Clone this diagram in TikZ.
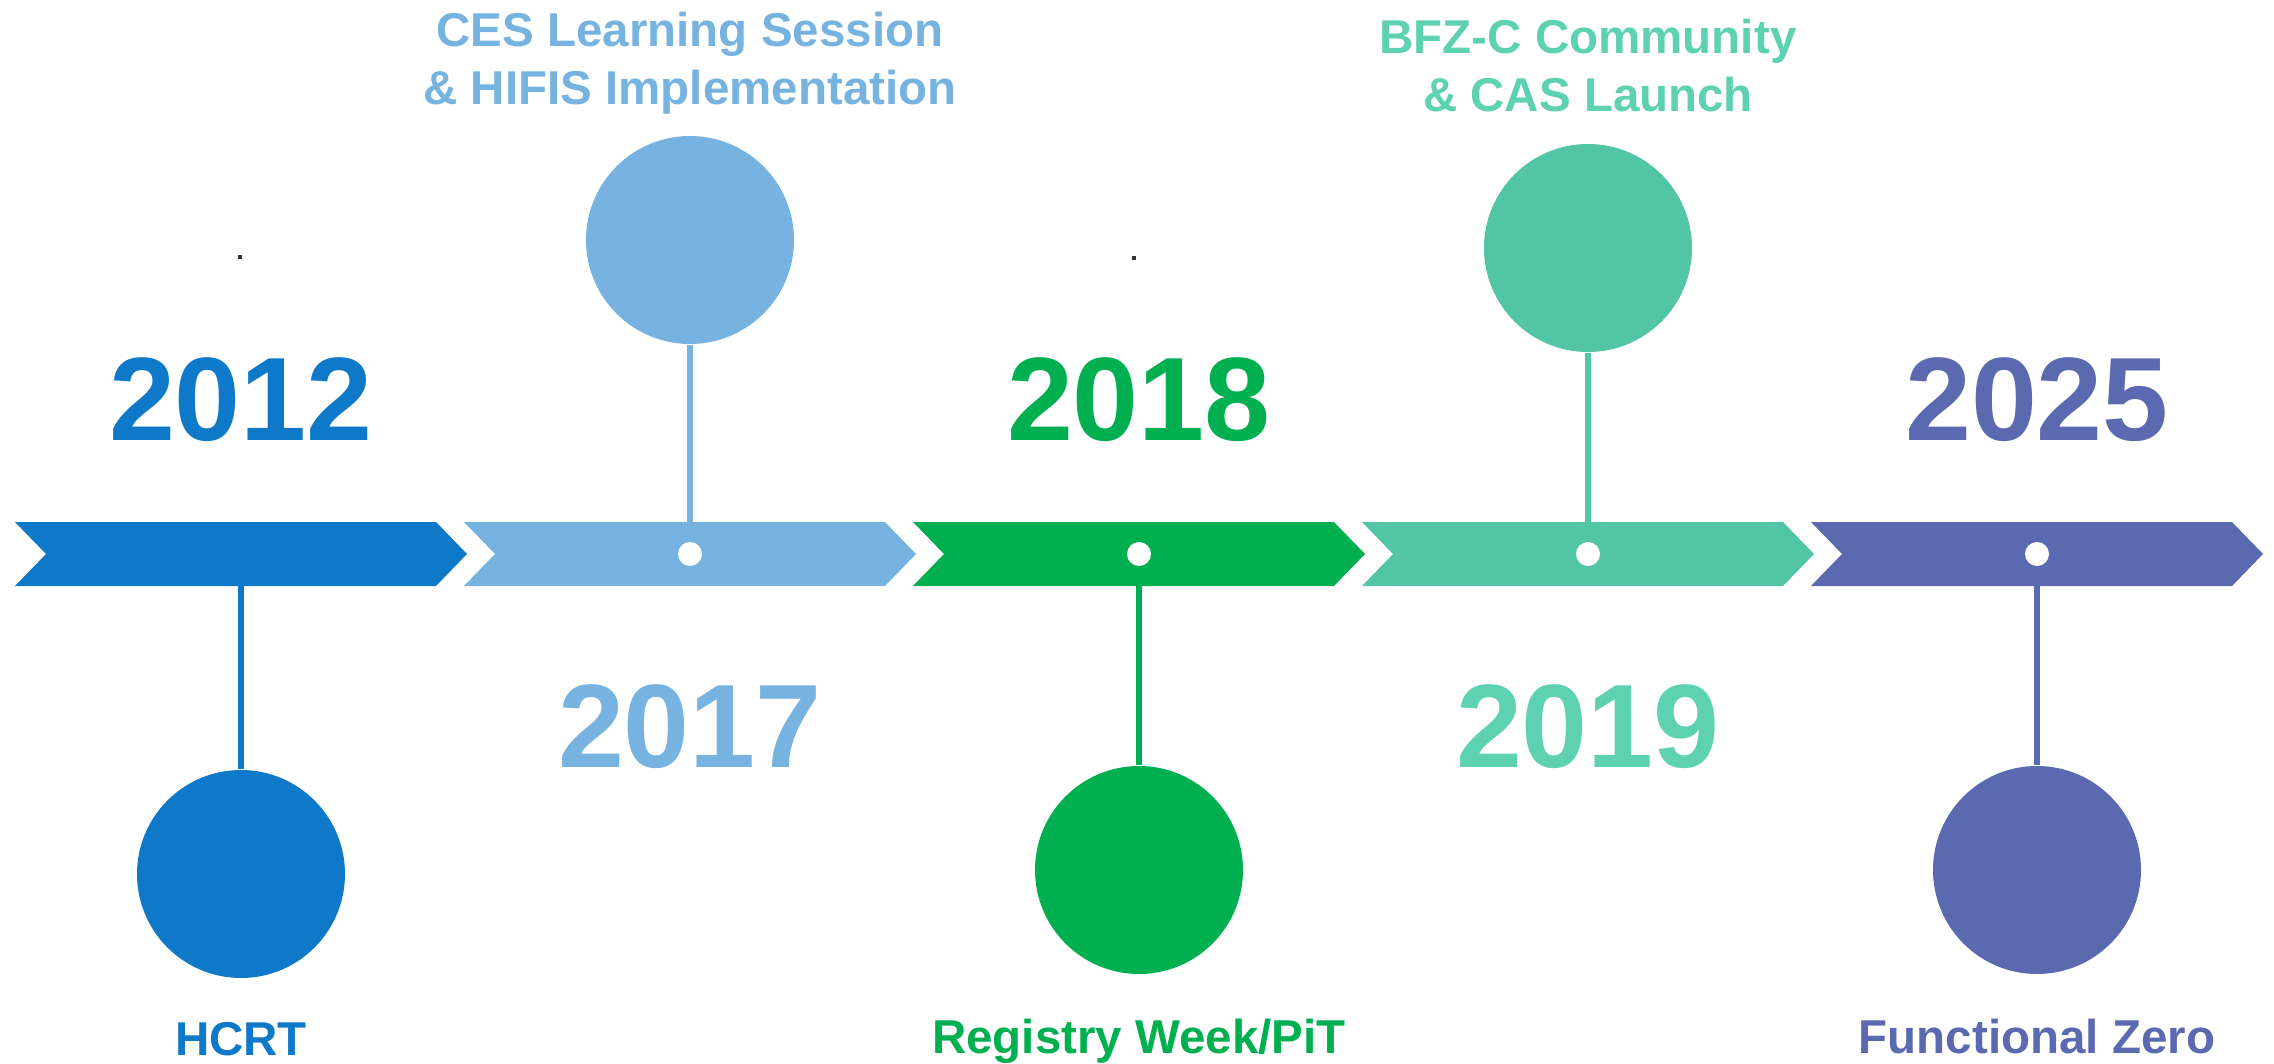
\documentclass[tikz,border=0pt]{standalone}
\usepackage{fontspec}
\setmainfont{Liberation Sans}
\usetikzlibrary{backgrounds}

\definecolor{hcrtblue}{HTML}{0E79C9}
\definecolor{cesblue}{HTML}{76B3E0}
\definecolor{regreen}{HTML}{00AF50}
\definecolor{bfzteal}{HTML}{52C5A6}
\definecolor{bfztext}{HTML}{5DD1B0}
\definecolor{fzpurple}{HTML}{5B69B1}

\begin{document}
\begin{tikzpicture}[x=0.3pt,y=-0.3pt,
  year/.style={anchor=base,inner sep=0,font=\fontsize{35.6pt}{42pt}\selectfont\bfseries},
  event/.style={inner sep=0,align=center,font=\fontsize{14.25pt}{17.4pt}\selectfont\bfseries},
  ball/.style={circle,inner sep=0,minimum size=62.4pt},
  hole/.style={circle,fill=white,inner sep=0,minimum size=7.2pt},
  stem/.style={line width=1.6pt},
  speck/.style={fill=black!80,inner sep=0,minimum size=1.2pt}]
\useasboundingbox (0,0) rectangle (2274,1064);

% arrow band
\fill[hcrtblue] (15,522)   -- ++(421,0) -- ++(31,32) -- ++(-31,32) -- ++(-421,0) -- ++(31,-32) -- cycle;
\fill[cesblue]  (464,522)  -- ++(421,0) -- ++(31,32) -- ++(-31,32) -- ++(-421,0) -- ++(31,-32) -- cycle;
\fill[regreen]  (913,522)  -- ++(421,0) -- ++(31,32) -- ++(-31,32) -- ++(-421,0) -- ++(31,-32) -- cycle;
\fill[bfzteal]  (1362,522) -- ++(421,0) -- ++(31,32) -- ++(-31,32) -- ++(-421,0) -- ++(31,-32) -- cycle;
\fill[fzpurple] (1811,522) -- ++(421,0) -- ++(31,32) -- ++(-31,32) -- ++(-421,0) -- ++(31,-32) -- cycle;

\coordinate (m1) at (241,554);
\node[hole] (d2) at (690,554) {};
\node[hole] (d3) at (1139,554) {};
\node[hole] (d4) at (1588,554) {};
\node[hole] (d5) at (2037,554) {};

\node[ball,fill=hcrtblue] (c1) at (241,874)  {};
\node[ball,fill=cesblue]  (c2) at (690,240)  {};
\node[ball,fill=regreen]  (c3) at (1139,870) {};
\node[ball,fill=bfzteal]  (c4) at (1588,248) {};
\node[ball,fill=fzpurple] (c5) at (2037,870) {};

\node[year,text=hcrtblue] (y12) at (241,440)  {2012};
\node[year,text=cesblue]  (y17) at (690,767)  {2017};
\node[year,text=regreen]  (y18) at (1139,440) {2018};
\node[year,text=bfztext]  (y19) at (1588,767) {2019};
\node[year,text=fzpurple] (y25) at (2037,440) {2025};

\node[event,anchor=base,text=hcrtblue]  (e1) at (241,1055)  {HCRT};
\node[event,anchor=north,text=cesblue]  (e2) at (690,11)    {CES Learning Session\\ \& HIFIS Implementation};
\node[event,anchor=base,text=regreen]   (e3) at (1139,1053) {Registry Week/PiT};
\node[event,anchor=north,text=bfztext]  (e4) at (1588,18)   {BFZ-C Community\\\& CAS Launch};
\node[event,anchor=base,text=fzpurple]  (e5) at (2037,1053) {Functional Zero};

\node[speck] (p1) at (240,257)  {};
\node[speck] (p2) at (1134,258) {};

\begin{scope}[on background layer]
\path[stem] (c1) edge[draw=hcrtblue] (m1)
            (c2) edge[draw=cesblue]  (d2)
            (c3) edge[draw=regreen]  (d3)
            (c4) edge[draw=bfzteal]  (d4)
            (c5) edge[draw=fzpurple] (d5);
\end{scope}
\end{tikzpicture}
\end{document}
